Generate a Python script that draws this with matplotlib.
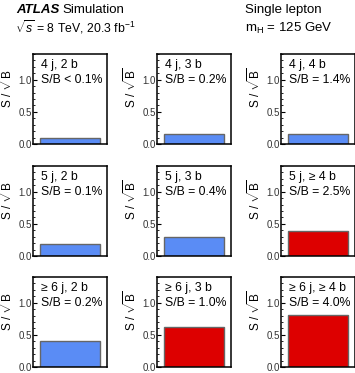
import matplotlib
matplotlib.use('Agg')
import matplotlib.pyplot as plt
from matplotlib.ticker import MultipleLocator

plt.rcParams['font.family'] = ['Liberation Sans', 'DejaVu Sans']
plt.rcParams['mathtext.fontset'] = 'custom'
plt.rcParams['mathtext.rm'] = 'Liberation Sans'
plt.rcParams['mathtext.it'] = 'Liberation Sans:italic'

#data, row by row
regions = [['4 j, 2 b', '4 j, 3 b', '4 j, 4 b'],
           ['5 j, 2 b', '5 j, 3 b', '5 j, \u2265 4 b'],
           ['\u2265 6 j, 2 b', '\u2265 6 j, 3 b', '\u2265 6 j, \u2265 4 b']]
sb_text = [['S/B < 0.1%', 'S/B = 0.2%', 'S/B = 1.4%'],
           ['S/B = 0.1%', 'S/B = 0.4%', 'S/B = 2.5%'],
           ['S/B = 0.2%', 'S/B = 1.0%', 'S/B = 4.0%']]
s_over_sqrtb = [[0.09, 0.15, 0.16],
                [0.18, 0.30, 0.39],
                [0.40, 0.63, 0.81]]
signal_rich = [[False, False, False],
               [False, False, True],
               [False, True, True]]

BLUE = '#5a8cf5'
RED = '#dd0000'

W, H = 355, 373
fig = plt.figure(figsize=(W / 100, H / 100), dpi=100)

col_left = [33, 157, 281]
row_top = [54, 166, 277]
ax_w, ax_h = 74, 90

for r in range(3):
    for c in range(3):
        ax = fig.add_axes([col_left[c] / W, 1 - (row_top[r] + ax_h) / H, ax_w / W, ax_h / H])
        color = RED if signal_rich[r][c] else BLUE
        ax.bar([0.5], [s_over_sqrtb[r][c]], width=0.8, color=color,
               edgecolor='#666666', linewidth=1.0)
        ax.set_xlim(0, 1)
        ax.set_ylim(0, 1.4)
        ax.set_xticks([])
        ax.yaxis.set_minor_locator(MultipleLocator(0.1))
        ax.set_yticks([0, 0.5, 1.0])
        ax.set_yticklabels(['0.0', '0.5', '1.0'])
        ax.tick_params(axis='y', which='major', direction='in', length=3, width=0.8,
                       labelsize=7, pad=1, labelcolor='#333333')
        ax.tick_params(axis='y', which='minor', direction='in', length=1.5, width=0.6)
        for s in ax.spines.values():
            s.set_linewidth(1.1)
        ax.text(0.11, 0.88, regions[r][c], transform=ax.transAxes, fontsize=8.8,
                va='center', ha='left')
        ax.text(0.11, 0.71, sb_text[r][c], transform=ax.transAxes, fontsize=8.8,
                va='center', ha='left')
        ax.set_ylabel(r'S / $\sqrt{\mathrm{B}}$', fontsize=8.5)
        ax.yaxis.set_label_coords(-0.24, 0.62)

#header text
fig.text(16 / W, 1 - 10 / H, 'ATLAS', fontsize=9.5, fontweight='bold', style='italic',
         va='center', ha='left')
fig.text(62 / W, 1 - 10 / H, 'Simulation', fontsize=9.5, va='center', ha='left')
fig.text(15 / W, 1 - 27 / H, r'$\sqrt{s}$ = 8 TeV, 20.3 fb$^{-1}$', fontsize=8.8,
         va='center', ha='left')
fig.text(245 / W, 1 - 10 / H, 'Single lepton', fontsize=9.5, va='center', ha='left')
fig.text(245 / W, 1 - 28 / H, r'm$_{\mathrm{H}}$ = 125 GeV', fontsize=9.5,
         va='center', ha='left')

fig.savefig('out.png', dpi=100)
